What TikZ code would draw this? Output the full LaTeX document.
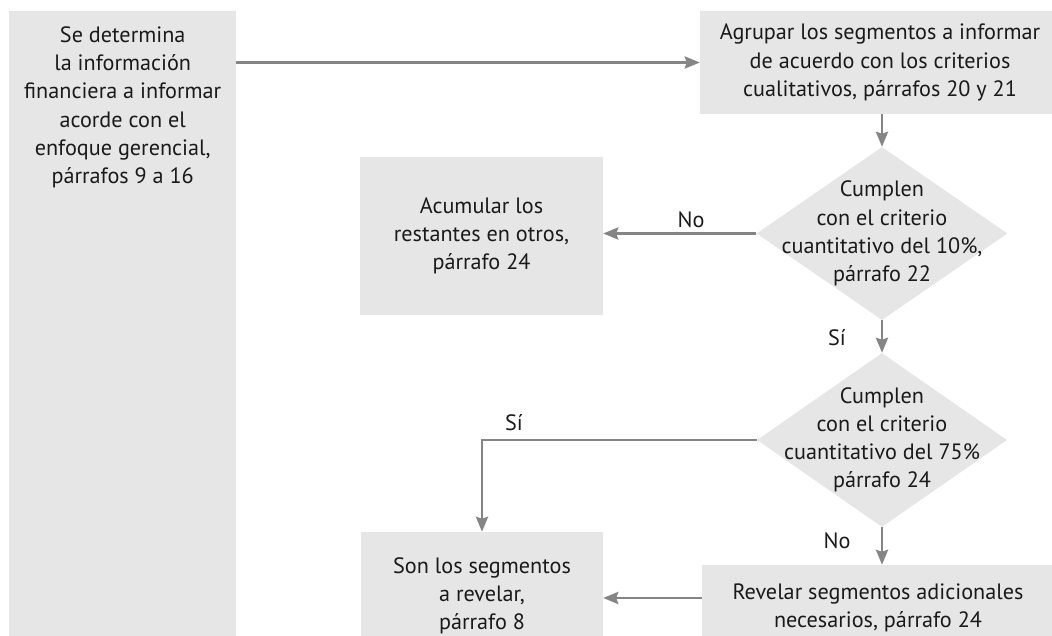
\documentclass[tikz,border=0pt]{standalone}
\usepackage{fontspec}
\setmainfont{PT Sans}
\usetikzlibrary{arrows.meta,shapes.geometric}
\definecolor{boxfill}{HTML}{E6E6E6}
\definecolor{linegray}{HTML}{858585}
\definecolor{txt}{HTML}{1A1A1A}
\begin{document}
\begin{tikzpicture}[x=1pt,y=-1pt,
  font=\fontsize{22.2}{28.2}\selectfont,
  box/.style={rectangle, fill=boxfill, draw=none, inner sep=0pt, align=center, text=txt},
  dia/.style={diamond, fill=boxfill, draw=none, inner sep=0pt},
  diatext/.style={align=center, text=txt, inner sep=0pt},
  conn/.style={draw=linegray, line width=2.8pt, -{Stealth[length=15pt,width=12pt,inset=2pt]}},
  lbl/.style={text=txt, anchor=base, inner sep=0pt}
]
\useasboundingbox (0,0) rectangle (1052,635);
\clip (0,0) rectangle (1052,635);

% left tall box (text at top)
\node[box, anchor=north west] (det) at (9,11)
  {\begin{minipage}[t][650pt][t]{227pt}\centering\vspace*{15.5pt}Se determina\\
   la información\\ financiera a informar\\ acorde con el\\ enfoque gerencial,\\
   párrafos 9 a 16\end{minipage}};

\node[box, minimum width=360pt, minimum height=103pt] (agr) at (880,62.5)
  {Agrupar los segmentos a informar\\ de acuerdo con los criterios\\ cualitativos, párrafos 20 y 21};

\node[dia, minimum width=251pt, minimum height=173pt] (d1) at (882,233.5) {};
\node[diatext] (d1t) at (d1.center) {Cumplen\\ con el criterio\\ cuantitativo del 10\%,\\ párrafo 22};

\node[box, minimum width=243pt, minimum height=158pt] (acu) at (481.5,236)
  {Acumular los\\ restantes en otros,\\ párrafo 24};

\node[dia, minimum width=250pt, minimum height=174pt] (d2) at (882,440) {};
\node[diatext] (d2t) at (d2.center) {Cumplen\\ con el criterio\\ cuantitativo del 75\%\\ párrafo 24};

\node[box, minimum width=242pt, minimum height=128pt] (son) at (482,596)
  {Son los segmentos\\ a revelar,\\ párrafo 8};

\node[box, minimum width=352pt, minimum height=86pt] (rev) at (878,608)
  {Revelar segmentos adicionales\\ necesarios, párrafo 24};

% connectors
\draw[conn] (det.east |- agr.west) -- (agr.west);
\draw[conn] (agr.south -| d1.north) -- (d1.north);
\draw[conn] (d1.west) -- (d1.west -| acu.east);
\draw[conn] (d1.south) -- (d2.north);
\draw[conn] (d2.west) -| (son.north);
\draw[conn] (d2.south) -- (d2.south |- rev.north);
\draw[conn] ([yshift=10pt]rev.west) -- ([yshift=10pt]rev.west -| son.east);

% labels
\node[lbl] (lno1) at (691,227) {No};
\node[lbl] (lsi1) at (837,345) {Sí};
\node[lbl] (lsi2) at (514,430) {Sí};
\node[lbl] (lno2) at (837,548) {No};
\end{tikzpicture}
\end{document}
